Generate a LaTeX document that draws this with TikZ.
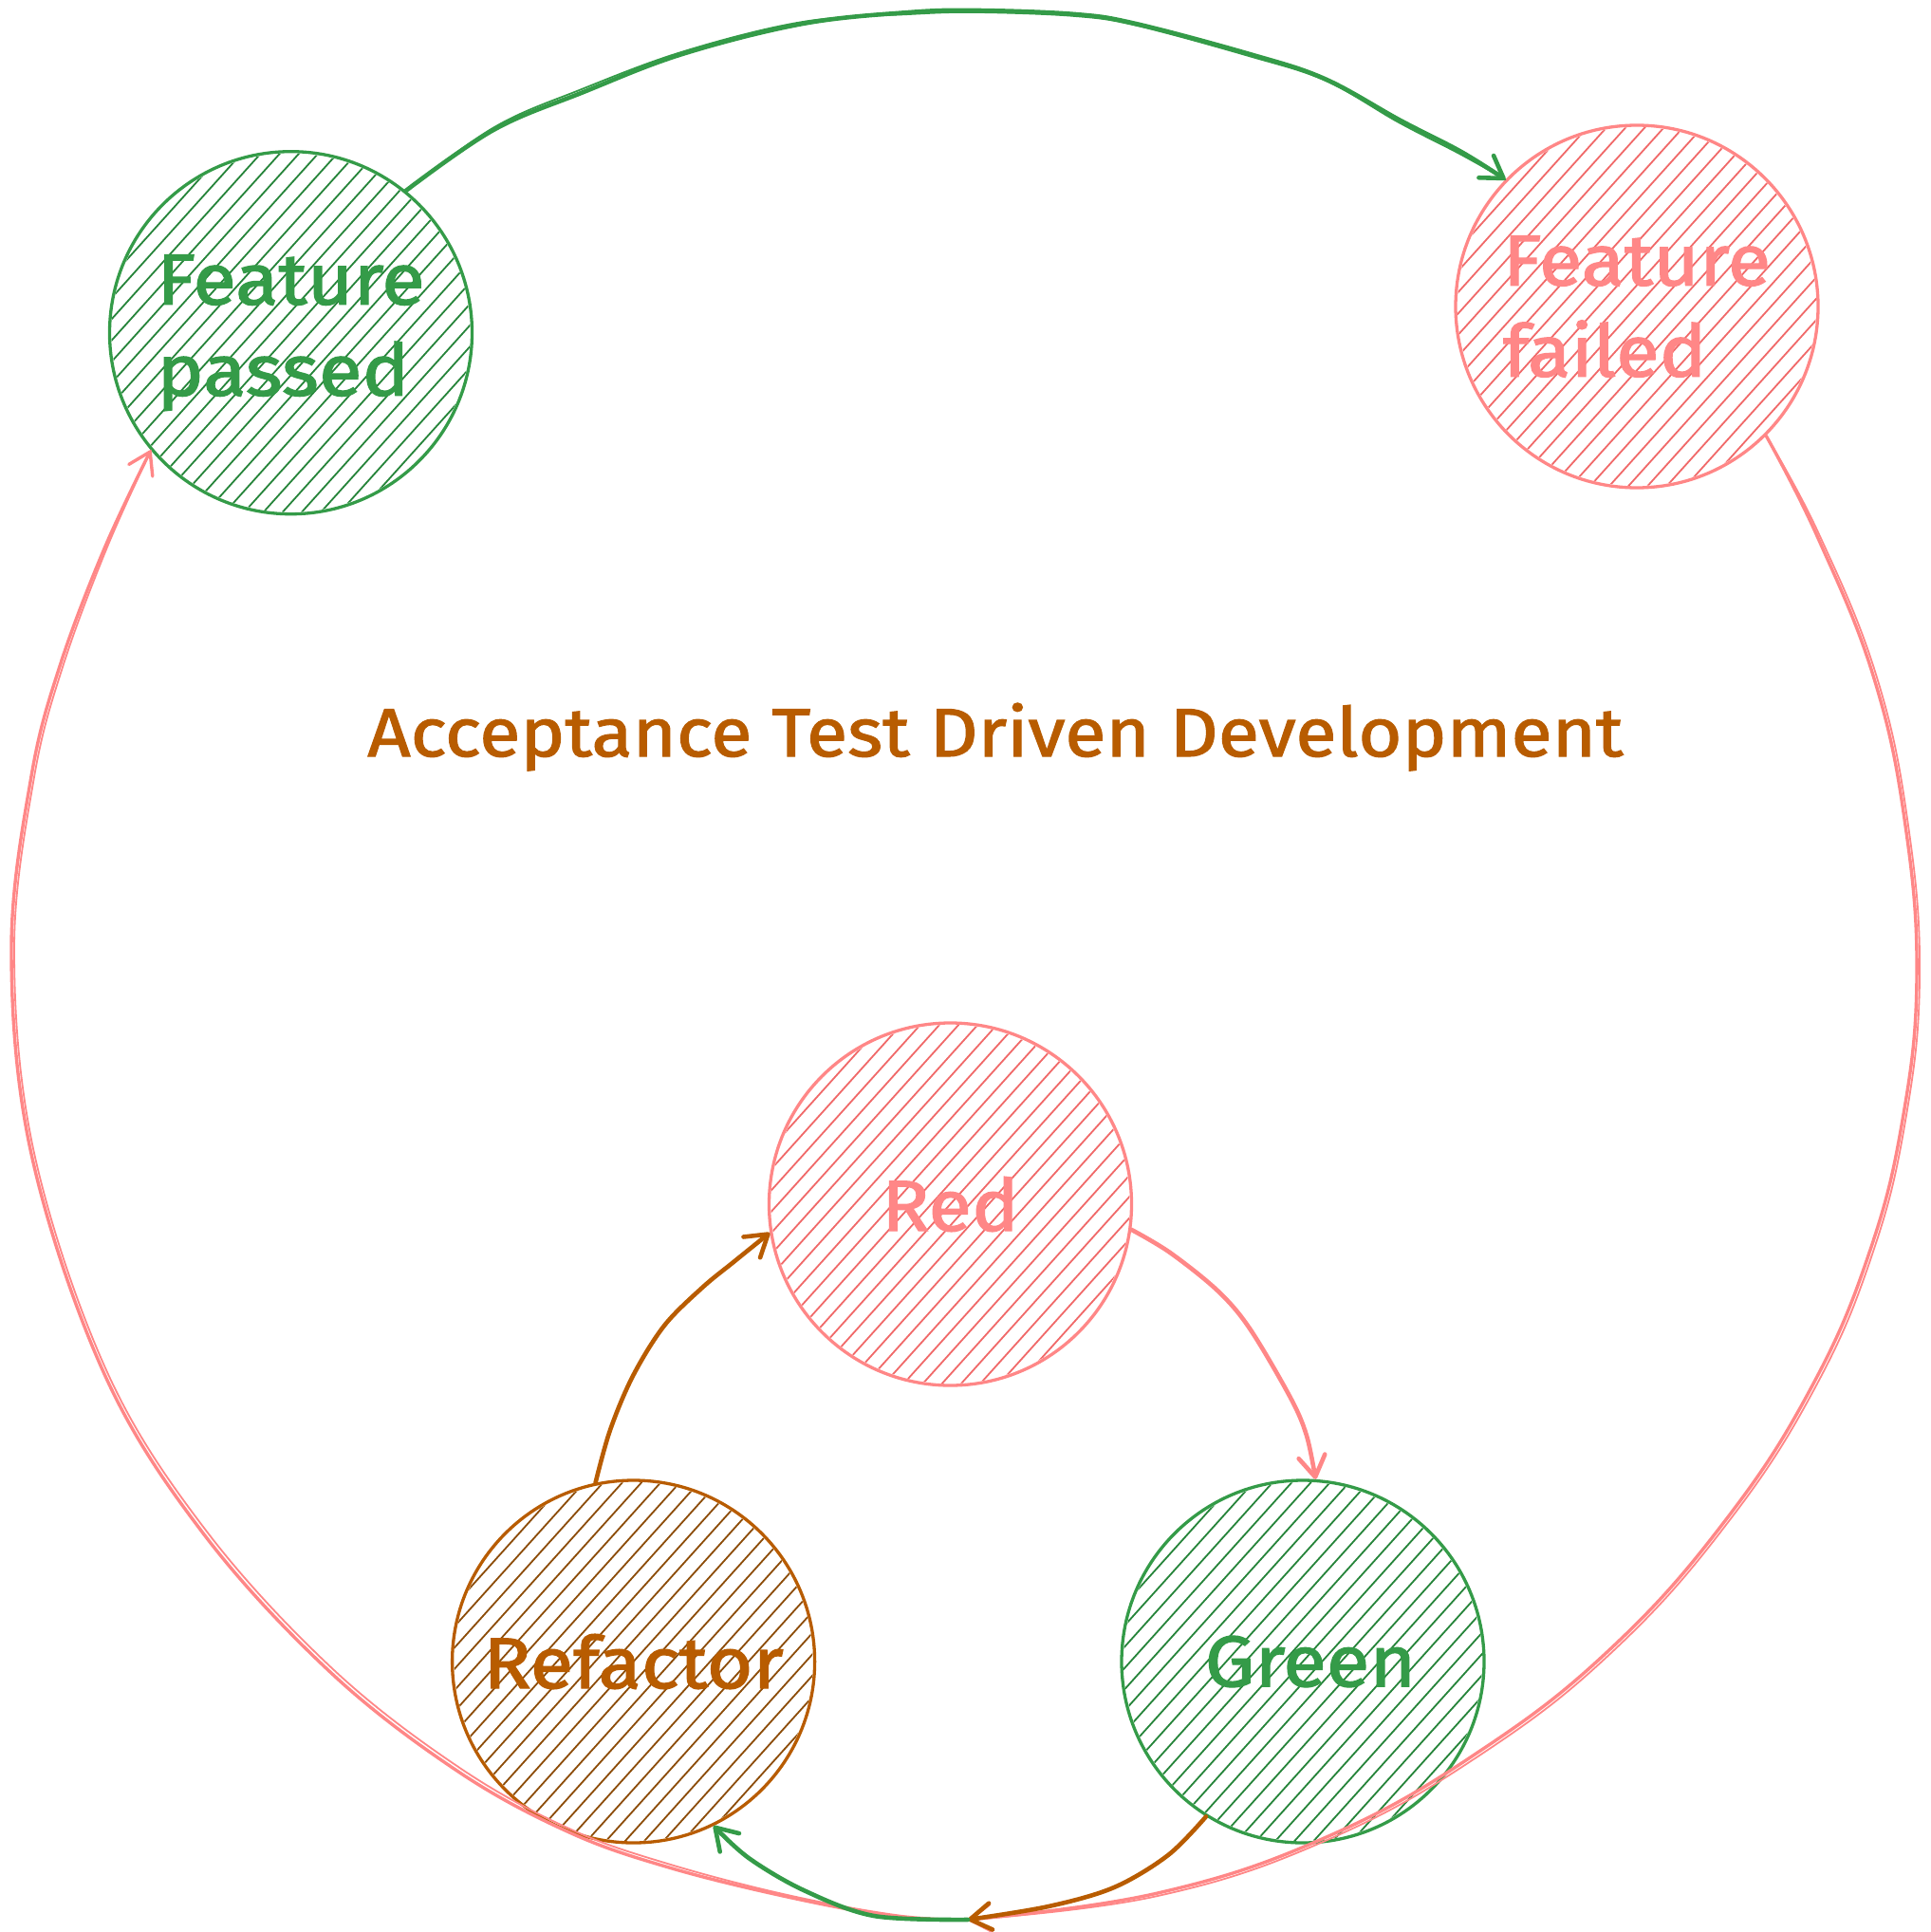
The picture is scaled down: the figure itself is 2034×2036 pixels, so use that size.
\documentclass[tikz,border=0pt]{standalone}
\usepackage{fontspec}
\setmainfont{Fira Sans}[FakeStretch=1.1,FakeBold=1.6]
\usetikzlibrary{arrows.meta,calc}

\definecolor{pinkC}{RGB}{255,135,135}
\definecolor{pinkH}{RGB}{240,105,105}
\definecolor{greenC}{RGB}{52,155,72}
\definecolor{greenH}{RGB}{38,132,58}
\definecolor{brownC}{RGB}{184,92,0}
\definecolor{brownH}{RGB}{140,76,8}

\pgfdeclarelayer{bg}
\pgfsetlayers{bg,main}

% diagonal hatching clipped to a state circle
\newcommand\hatchfill[2]{%
  \begin{pgfonlayer}{bg}
    \begin{scope}
      \clip (#1.center) circle[radius=189pt];
      \foreach \k in {-13,...,13}
        \draw[#2, line width=1.8pt]
          ($(#1.center)+(138:\k*15pt)+(48:-200pt)$) --
          ($(#1.center)+(138:\k*15pt)+(48:200pt)$);
    \end{scope}
  \end{pgfonlayer}}

\tikzset{
  state/.style={circle, draw, line width=3.3pt, minimum size=382pt,
    inner sep=0pt, align=left, font=\fontsize{76}{96}\selectfont},
  conn/.style={line width=4.6pt, line cap=round, line join=round},
  bigconn/.style={line width=3.4pt, line cap=round, line join=round},
  ghost/.style={line width=1.8pt, line cap=round, line join=round},
  tip/.style={-{Straight Barb[length=22pt,width=28pt,round]}},
  title/.style={font=\fontsize{72}{94}\selectfont, text=brownC, anchor=base},
}

\begin{document}
\begin{tikzpicture}[x=1pt,y=-1pt]
\useasboundingbox (0,0) rectangle (2034,2036);

% states
\node[state, color=greenC] (fp) at (306.5,350.7) {Feature\\passed};
\node[state, color=pinkC]  (ff) at (1725,323)   {Feature\\failed};
\node[state, color=pinkC]  (red) at (1001.5,1269) {Red};
\node[state, color=brownC] (ref) at (667.6,1751) {Refactor};
\node[state, color=greenC] (grn) at (1373,1751)  {\hspace*{16pt}Green};

\hatchfill{fp}{greenH}
\hatchfill{ff}{pinkH}
\hatchfill{red}{pinkH}
\hatchfill{ref}{brownH}
\hatchfill{grn}{greenH}

% title
\node[title] (ttl) at (1049,797) {Acceptance Test Driven Development};

% meeting point of the outer loop
\coordinate (hub) at (1020,2023);

% Feature passed -> Feature failed
\draw[conn, greenC, tip] plot[smooth, tension=0.6] coordinates {
  (fp.51) (520,137) (615,97) (719,57) (846,25) (958,13) (1030,11)
  (1133,15) (1197,25) (1317,57) (1396,83) (1476,127) (1540,160) (ff.136)};
\draw[ghost, greenC] plot[smooth, tension=0.6] coordinates {
  (fp.51) (521,134) (613,94) (721,54) (846,23) (958,15) (1030,13)
  (1133,17) (1198,27) (1316,59) (1397,85) (1474,129) (1538,162) (ff.136)};

% Feature failed -> hub (right side of the outer loop)
\draw[bigconn, pinkC, tip] plot[smooth, tension=0.7] coordinates {
  (ff.-45) (1915,565) (1975,715) (2008,870) (2020,1030) (2005,1180)
  (1970,1320) (1910,1460) (1820,1600) (1700,1735) (1560,1845)
  (1400,1935) (1220,1995) (hub)};
\draw[ghost, pinkC] plot[smooth, tension=0.7] coordinates {
  (ff.-45) (1917,563) (1978,714) (2011,870) (2023,1030) (2008,1181)
  (1973,1322) (1913,1462) (1822,1603) (1702,1738) (1562,1848)
  (1401,1938) (1220,1998) (hub)};

% hub -> Feature passed (left side of the outer loop)
\draw[bigconn, pinkC, tip] plot[smooth, tension=0.6] coordinates {
  (hub) (944,2020) (830,1999) (705,1968) (600,1931) (483,1867)
  (349,1763) (215,1617) (110,1448) (33,1216) (12,1000) (33,818)
  (63,702) (110,578) (fp.220)};
\draw[ghost, pinkC] plot[smooth, tension=0.6] coordinates {
  (hub) (944,2018) (830,1997) (707,1965) (602,1928) (486,1864)
  (352,1760) (218,1614) (113,1446) (36,1215) (15,1000) (36,819)
  (66,703) (112,579) (fp.220)};

% Red -> Green
\draw[conn, pinkC, tip] plot[smooth, tension=0.55] coordinates {
  (red.-8) (1233,1320) (1283,1360) (1317,1400) (1360,1473) (1377,1513) (grn.86)};

% Refactor -> Red
\draw[conn, brownC, tip] plot[smooth, tension=0.55] coordinates {
  (ref.102) (643,1507) (667,1450) (700,1397) (740,1357) (773,1330) (red.189)};

% Green -> hub
\draw[conn, brownC, tip] plot[smooth, tension=0.55] coordinates {
  (grn.238) (1231,1955) (1174,1989) (1105,2009) (hub)};

% hub -> Refactor
\draw[conn, greenC, tip] plot[smooth, tension=0.55] coordinates {
  (hub) (921,2019) (847,1992) (789,1958) (ref.-64)};

\end{tikzpicture}
\end{document}
